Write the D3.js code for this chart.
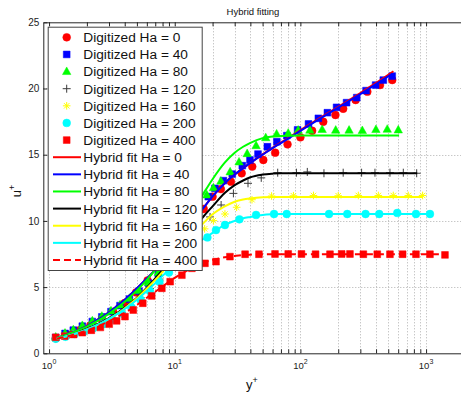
<!DOCTYPE html>
<html>
<head>
<meta charset="utf-8">
<script src="https://cdn.jsdelivr.net/npm/d3@7/dist/d3.min.js"></script>
<style>
  html, body { margin: 0; padding: 0; background: #fff; }
  svg { display: block; font-family: "Liberation Sans", Arial, sans-serif; }
</style>
</head>
<body>
<svg id="chart" width="461" height="393"></svg>
<script>
// Hartmann numbers of the series
const haValues = [0, 40, 80, 120, 160, 200, 400];

const digY0 = [1.13, 1.4, 1.73, 2.13, 2.63, 3.24, 4.0, 4.93, 6.08, 7.5, 9.25, 11.4, 14.1, 17.0, 20.0, 23.3, 28.0, 34.1, 41.4, 50.7, 63, 79, 100, 124, 152, 190, 219, 275, 341, 430, 538];
const digU0 = [1.13, 1.4, 1.72, 2.1, 2.58, 3.12, 3.8, 4.6, 5.5, 6.45, 7.5, 8.6, 9.8, 10.9, 11.83, 12.4, 12.96, 13.6, 14.1, 14.6, 15.15, 15.78, 16.31, 16.81, 17.49, 18.0, 18.47, 19.13, 19.76, 20.26, 20.64];

const digY40 = [1.13, 1.34, 1.56, 1.84, 2.21, 2.63, 3.11, 3.67, 4.36, 5.2, 6.17, 7.4, 8.9, 10.6, 12.6, 15.2, 18.5, 20.9, 24.4, 28.7, 34.5, 39.7, 46, 54.6, 65, 78, 95, 116, 139, 164, 194, 233, 281, 333, 397, 457, 538];
const digU40 = [1.2, 1.5, 1.75, 2.05, 2.4, 2.75, 3.15, 3.6, 4.1, 4.7, 5.3, 6.0, 6.8, 7.7, 8.7, 10.0, 11.83, 12.46, 13.04, 13.54, 14.17, 14.6, 15.05, 15.6, 15.98, 16.44, 16.87, 17.32, 17.75, 18.17, 18.58, 18.93, 19.31, 19.84, 20.26, 20.64, 20.94];

const digY80 = [1.13, 1.34, 1.56, 1.84, 2.21, 2.63, 3.11, 3.67, 4.36, 5.2, 6.17, 7.4, 8.9, 10.6, 12.6, 15.2, 18.0, 20.3, 23.3, 27.6, 32.5, 37.7, 44.4, 53, 64.7, 80, 96, 119, 149, 191, 244, 311, 399, 491, 601];
const digU80 = [1.22, 1.52, 1.78, 2.1, 2.45, 2.8, 3.2, 3.65, 4.15, 4.75, 5.35, 6.1, 6.9, 7.8, 8.9, 10.4, 11.96, 12.5, 13.0, 13.7, 14.45, 15.08, 15.68, 16.28, 16.56, 16.62, 16.85, 16.85, 16.9, 16.85, 16.85, 16.82, 16.9, 16.92, 16.87];

const digY120 = [1.13, 1.35, 1.6, 1.9, 2.25, 2.7, 3.2, 3.8, 4.5, 5.35, 6.35, 7.55, 9.0, 10.7, 12.7, 15.1, 19.1, 23.4, 29.3, 38.3, 48.8, 66, 93, 113.5, 154, 219, 307, 392, 516, 659, 842];
const digU120 = [1.12, 1.28, 1.5, 1.72, 1.98, 2.3, 2.65, 3.08, 3.6, 4.2, 4.9, 5.6, 6.5, 7.45, 8.4, 9.3, 10.3, 11.2, 12.08, 12.84, 13.25, 13.64, 13.64, 13.7, 13.6, 13.64, 13.64, 13.64, 13.64, 13.64, 13.6];

const digY160 = [1.13, 1.35, 1.6, 1.9, 2.25, 2.7, 3.2, 3.8, 4.5, 5.35, 6.35, 7.55, 9.0, 10.7, 12.7, 15.1, 17.3, 20.3, 25.1, 31.1, 41.2, 59, 88, 127, 200, 289, 417, 548, 722, 939];
const digU160 = [1.1, 1.27, 1.48, 1.7, 1.95, 2.26, 2.6, 3.02, 3.5, 4.1, 4.75, 5.45, 6.25, 7.1, 7.95, 8.75, 9.4, 10.02, 10.52, 11.03, 11.6, 11.88, 11.9, 11.92, 11.9, 11.92, 11.92, 11.92, 11.92, 11.92];

const digY200 = [1.13, 1.35, 1.6, 1.9, 2.25, 2.7, 3.2, 3.8, 4.5, 5.35, 6.35, 7.55, 9.0, 10.7, 12.7, 15.1, 18.2, 21.3, 25.1, 32.7, 44.4, 61.7, 77.8, 169, 236, 330, 424, 590, 831, 1074];
const digU200 = [1.1, 1.25, 1.45, 1.65, 1.9, 2.2, 2.55, 3.0, 3.5, 4.05, 4.7, 5.4, 6.1, 6.8, 7.5, 8.15, 8.75, 9.31, 9.69, 10.12, 10.45, 10.52, 10.52, 10.52, 10.52, 10.52, 10.52, 10.6, 10.52, 10.52];

const digY400 = [1.13, 1.33, 1.57, 1.84, 2.17, 2.56, 3.01, 3.45, 4.02, 4.68, 5.57, 6.56, 7.9, 9.2, 11.4, 13.7, 17.4, 21.3, 27.5, 36.3, 46.8, 62.8, 80, 102, 132, 172, 213, 248, 317, 409, 516, 651, 831, 1074, 1414];
const digU400 = [1.21, 1.3, 1.42, 1.56, 1.74, 1.95, 2.2, 2.45, 2.77, 3.27, 3.78, 4.33, 4.91, 5.41, 5.9, 6.42, 6.8, 6.92, 7.3, 7.48, 7.48, 7.5, 7.5, 7.5, 7.48, 7.48, 7.5, 7.5, 7.48, 7.48, 7.48, 7.48, 7.48, 7.48, 7.43];

// Hybrid fit curves, sampled on a shared y+ grid plus one end point each
const fitY = [1.15, 1.4, 1.7, 2, 2.5, 3, 3.5, 4, 5, 6, 7, 8, 10, 12, 14, 17, 20, 25, 30, 35, 40, 50, 60, 70, 80, 100, 150, 200, 300, 400];
const fitU0   = [1.15, 1.42, 1.74, 2.06, 2.6, 3.1, 3.6, 4.05, 4.9, 5.65, 6.3, 6.9, 8.0, 9.0, 9.95, 11.0, 11.85, 12.85, 13.5, 13.98, 14.38, 15.02, 15.52, 15.92, 16.27, 16.85, 17.9, 18.62, 19.66, 20.42];
const fitU40  = [1.15, 1.42, 1.74, 2.06, 2.6, 3.1, 3.6, 4.05, 4.9, 5.65, 6.3, 6.9, 8.0, 9.0, 9.95, 11.0, 11.85, 12.85, 13.5, 13.98, 14.38, 15.0, 15.5, 15.88, 16.22, 16.8, 17.84, 18.55, 19.58, 20.33];
const fitU80  = [1.15, 1.42, 1.72, 2.02, 2.5, 3.0, 3.45, 3.9, 4.75, 5.55, 6.3, 7.0, 8.4, 9.7, 10.8, 12.1, 13.15, 14.4, 15.15, 15.6, 15.9, 16.25, 16.38, 16.42, 16.44, 16.45, 16.45, 16.45, 16.45, 16.45];
const fitU120 = [1.1, 1.32, 1.58, 1.84, 2.25, 2.65, 3.05, 3.45, 4.2, 4.95, 5.65, 6.3, 7.5, 8.5, 9.35, 10.35, 11.1, 12.1, 12.7, 13.05, 13.3, 13.5, 13.57, 13.6, 13.6, 13.6, 13.6, 13.6, 13.6, 13.6];
const fitU160 = [1.1, 1.3, 1.55, 1.8, 2.2, 2.6, 3.0, 3.4, 4.15, 4.9, 5.55, 6.15, 7.25, 8.2, 8.95, 9.85, 10.5, 11.1, 11.45, 11.62, 11.7, 11.78, 11.8, 11.8, 11.8, 11.8, 11.8, 11.8, 11.8, 11.8];
const fitU200 = [1.1, 1.3, 1.55, 1.8, 2.2, 2.6, 2.98, 3.35, 4.05, 4.7, 5.3, 5.85, 6.75, 7.45, 8.0, 8.65, 9.1, 9.7, 10.0, 10.2, 10.3, 10.45, 10.5, 10.52, 10.52, 10.52, 10.52, 10.52, 10.52, 10.52];
const fitU400 = [1.1, 1.28, 1.5, 1.72, 2.08, 2.42, 2.75, 3.05, 3.65, 4.2, 4.65, 5.05, 5.7, 6.15, 6.5, 6.85, 7.05, 7.25, 7.35, 7.42, 7.45, 7.48, 7.48, 7.48, 7.48, 7.48, 7.48, 7.48, 7.48, 7.48];
const fitEndY = [550, 540, 610, 850, 940, 1074, 1414];
const fitEndU = [21.3, 21.12, 16.45, 13.6, 11.8, 10.52, 7.48];

// Axis ticks
const yTicks = [0, 5, 10, 15, 20, 25];
const xMajor = [1, 10, 100, 1000];
const xDomain = [0.9, 2000];
const yDomain = [0, 25];

const digitizedY = [digY0, digY40, digY80, digY120, digY160, digY200, digY400];
const digitizedU = [digU0, digU40, digU80, digU120, digU160, digU200, digU400];
const fitU = [fitU0, fitU40, fitU80, fitU120, fitU160, fitU200, fitU400];

// Marker / line styling per series
const colors = ["#ff0000", "#0000ff", "#00ff00", "#3a3a3a", "#ffff00", "#00ffff", "#ff0000"];
const fitColors = ["#ff0000", "#0000ff", "#00ff00", "#000000", "#ffff00", "#00ffff", "#ff0000"];
const markerKinds = ["circle", "square", "triangle", "plus", "star", "circle", "square"];

(function draw() {
  const svg = d3.select("#chart");
  const pLeft = 43.3, pTop = 22.3, pBottom = 353.3, pRight = 463.9;

  const x = d3.scaleLog().domain(xDomain).range([pLeft, pRight]);
  const y = d3.scaleLinear().domain(yDomain).range([pBottom, pTop]);

  svg.append("rect").attr("width", 461).attr("height", 393).attr("fill", "#fff");

  // minor + major decade positions
  const xAll = [];
  for (let e = 0; e <= 3; e++) for (let m = 1; m <= 9; m++) {
    const v = m * Math.pow(10, e);
    if (v >= xDomain[0] && v <= xDomain[1]) xAll.push(v);
  }
  xAll.push(2000);

  // grid
  const grid = svg.append("g").attr("stroke", "#b0b0b0").attr("stroke-width", 1)
    .attr("stroke-dasharray", "1,2").attr("fill", "none");
  xAll.forEach(v => {
    const px = Math.round(x(v)) + 0.5;
    grid.append("line").attr("x1", px).attr("x2", px).attr("y1", pTop).attr("y2", pBottom);
  });
  yTicks.filter(v => v > 0 && v < 25).forEach(v => {
    const py = Math.round(y(v)) + 0.5;
    grid.append("line").attr("x1", pLeft).attr("x2", pRight).attr("y1", py).attr("y2", py);
  });

  const defs = svg.append("defs");
  defs.append("clipPath").attr("id", "plotClip").append("rect")
    .attr("x", pLeft).attr("y", pTop).attr("width", pRight - pLeft).attr("height", pBottom - pTop);

  const plot = svg.append("g").attr("clip-path", "url(#plotClip)");

  function markerPath(kind) {
    switch (kind) {
      case "circle": return d3.symbol(d3.symbolCircle, 48)();
      case "square": return d3.symbol(d3.symbolSquare, 46)();
      case "triangle": return "M0,-4.6L4.2,3L-4.2,3Z";
      case "plus": return "M-4,0H4M0,-4V4";
      case "star": return "M-3.8,0H3.8M0,-3.8V3.8M-2.7,-2.7L2.7,2.7M-2.7,2.7L2.7,-2.7";
    }
  }
  function drawMarker(g, kind, color, cx, cy) {
    const p = g.append("path").attr("d", markerPath(kind))
      .attr("transform", `translate(${cx},${cy})`);
    if (kind === "plus" || kind === "star") {
      p.attr("fill", "none").attr("stroke", color).attr("stroke-width", 1);
    } else {
      p.attr("fill", color).attr("stroke", color).attr("stroke-width", 0.5);
    }
  }

  haValues.forEach((ha, i) => {
    const g = plot.append("g");
    digitizedY[i].forEach((yp, k) => {
      drawMarker(g, markerKinds[i], colors[i], x(yp), y(digitizedU[i][k]));
    });
  });

  // hybrid fit lines
  const line = d3.line().x(d => x(d[0])).y(d => y(d[1])).curve(d3.curveMonotoneX);
  haValues.forEach((ha, i) => {
    const pts = fitY.map((v, k) => [v, fitU[i][k]]);
    pts.push([fitEndY[i], fitEndU[i]]);
    const path = plot.append("path").datum(pts).attr("d", line)
      .attr("fill", "none").attr("stroke", fitColors[i]).attr("stroke-width", 2);
    if (ha === 400) path.attr("stroke-dasharray", "7,4");
  });

  // axes (ticks pointing inward)
  const axisColor = "#262626";
  const xb = svg.append("g").attr("transform", `translate(0,${pBottom})`)
    .call(d3.axisBottom(x).tickValues(xAll).tickSize(-4).tickSizeOuter(0).tickFormat(""));
  const xt = svg.append("g").attr("transform", `translate(0,${pTop})`)
    .call(d3.axisTop(x).tickValues(xAll).tickSize(-4).tickSizeOuter(0).tickFormat(""));
  const yl = svg.append("g").attr("transform", `translate(${pLeft},0)`)
    .call(d3.axisLeft(y).tickValues(yTicks).tickSize(-4).tickSizeOuter(0).tickPadding(4));
  [xb, xt, yl].forEach(g => {
    g.selectAll("path, line").attr("stroke", axisColor);
    g.selectAll("text").attr("fill", "#222").attr("font-size", "10px")
      .attr("font-family", "'Liberation Sans', Arial, sans-serif");
  });

  // x tick labels as powers of ten
  xMajor.forEach(v => {
    const t = svg.append("text").attr("x", x(v)).attr("y", 368.5)
      .attr("text-anchor", "middle").attr("fill", "#222").attr("font-size", "9.5px");
    t.append("tspan").text("10");
    t.append("tspan").attr("dy", -4.5).attr("font-size", "7px").text(Math.round(Math.log10(v)));
  });

  // title and axis labels
  svg.append("text").attr("x", 253).attr("y", 15).attr("text-anchor", "middle")
    .attr("font-size", "9.5px").attr("fill", "#111").text("Hybrid fitting");

  const xl = svg.append("text").attr("x", 252).attr("y", 389).attr("text-anchor", "middle")
    .attr("font-size", "13px").attr("fill", "#111");
  xl.append("tspan").text("y");
  xl.append("tspan").attr("dy", -6).attr("font-size", "9px").text("+");

  const ylab = svg.append("text").attr("transform", "translate(21,191) rotate(-90)")
    .attr("text-anchor", "middle").attr("font-size", "13px").attr("fill", "#111");
  ylab.append("tspan").text("u");
  ylab.append("tspan").attr("dy", -6).attr("font-size", "9px").text("+");

  // legend
  const legX = 47.7, legY = 26.7, legW = 154, legH = 243.3;
  const leg = svg.append("g");
  leg.append("rect").attr("x", legX + 0.5).attr("y", legY + 0.5).attr("width", legW).attr("height", legH)
    .attr("fill", "#fff").attr("stroke", "#444").attr("stroke-width", 1);
  const rowH = 17.13, row0 = 37.3;
  haValues.forEach((ha, i) => {
    const ry = row0 + i * rowH;
    drawMarker(leg, markerKinds[i], colors[i], 66.7, ry);
    leg.append("text").attr("x", 83.3).attr("y", ry).attr("dy", "0.36em")
      .attr("font-size", "13.7px").attr("fill", "#111").text(`Digitized Ha = ${ha}`);
  });
  haValues.forEach((ha, i) => {
    const ry = row0 + (i + 7) * rowH;
    const l = leg.append("line").attr("x1", 53).attr("x2", 81).attr("y1", ry).attr("y2", ry)
      .attr("stroke", fitColors[i]).attr("stroke-width", 2);
    if (ha === 400) l.attr("stroke-dasharray", "7,4");
    leg.append("text").attr("x", 83.3).attr("y", ry).attr("dy", "0.36em")
      .attr("font-size", "13.7px").attr("fill", "#111").text(`Hybrid fit Ha = ${ha}`);
  });
})();
</script>
</body>
</html>
